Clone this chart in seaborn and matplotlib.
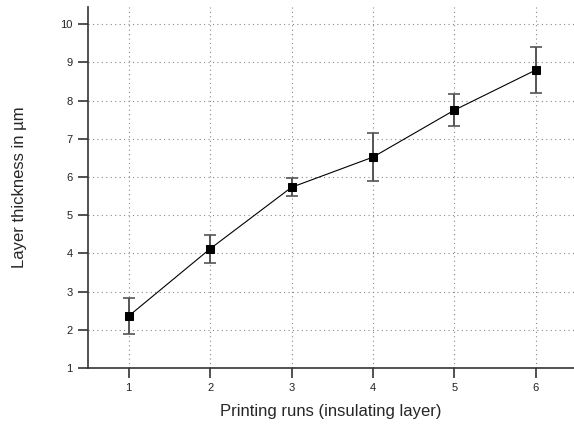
import matplotlib
matplotlib.use("Agg")
import matplotlib.pyplot as plt
import numpy as np
import pandas as pd
import seaborn as sns

# values
runs = [1, 2, 3, 4, 5, 6]
thickness = [2.36, 4.12, 5.73, 6.52, 7.75, 8.80]
thickness_err = [0.48, 0.36, 0.24, 0.63, 0.42, 0.59]
y_ticks = [1, 2, 3, 4, 5, 6, 7, 8, 9, 10]

df = pd.DataFrame({"run": runs, "thickness": thickness, "err": thickness_err})

sns.set_style("white")
plt.rcParams["font.family"] = ["Liberation Sans", "DejaVu Sans"]

fig = plt.figure(figsize=(5.74, 4.26), dpi=100)
ax = fig.add_axes([88 / 574, 58 / 426, 1 - 88 / 574, 361 / 426])

# error bars first, then line + square markers on top
ax.errorbar(df["run"], df["thickness"], yerr=df["err"], fmt="none",
            ecolor="#555555", elinewidth=1.4, capsize=4, capthick=1.2, zorder=2)
sns.lineplot(data=df, x="run", y="thickness", ax=ax, color="black",
             linewidth=0.8, marker="s", markersize=6, markeredgecolor="black",
             markerfacecolor="black", zorder=3)

ax.set_xlim(0.5, 6.47)
ax.set_ylim(1, 10.45)
ax.set_xticks(runs)
ax.set_yticks(y_ticks)
ax.tick_params(axis="both", direction="out", length=7, width=1.2, labelsize=8,
               colors="#333333", labelcolor="#222222", pad=4,
               bottom=True, left=True)

ax.grid(True, linestyle=(0, (1, 3)), color="#888888", linewidth=0.8)
ax.set_axisbelow(True)

for side in ["top", "right"]:
    ax.spines[side].set_visible(False)
for side in ["left", "bottom"]:
    ax.spines[side].set_color("#333333")
    ax.spines[side].set_linewidth(1.2)

ax.set_xlabel("Printing runs (insulating layer)", fontsize=12, labelpad=8)
ax.set_ylabel("Layer thickness in µm", fontsize=12, labelpad=24)

fig.savefig("out.png", dpi=100)
